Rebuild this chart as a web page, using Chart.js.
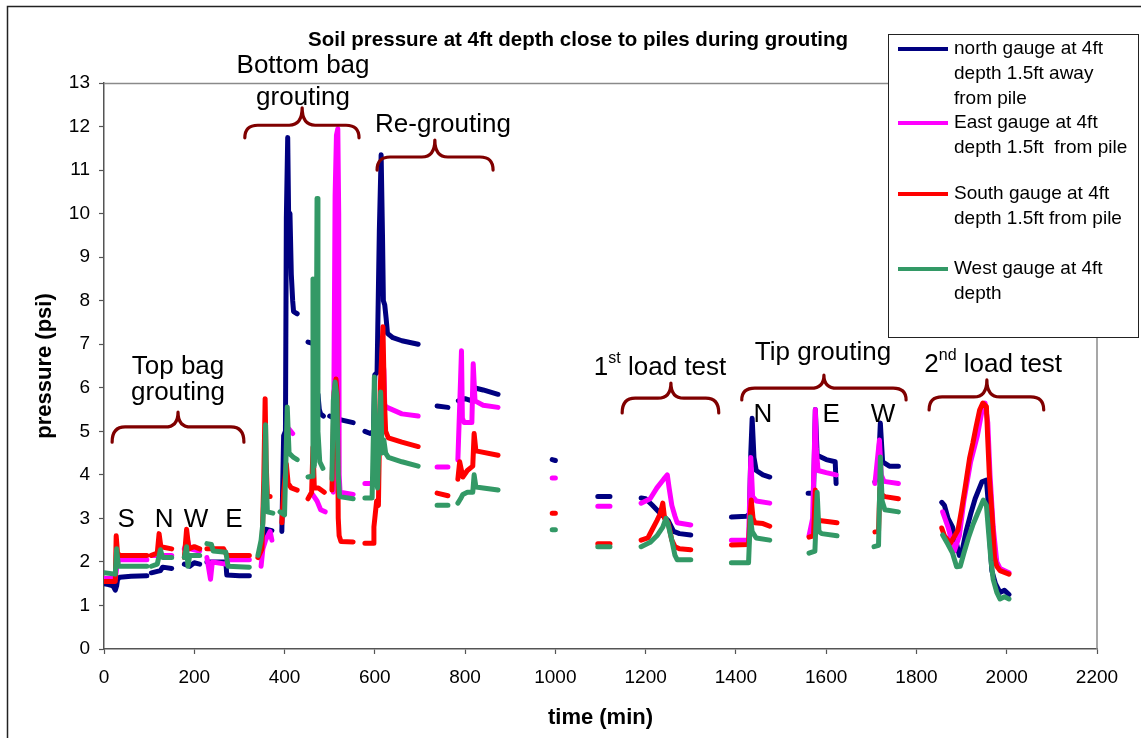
<!DOCTYPE html>
<html><head><meta charset="utf-8">
<script src="https://cdn.jsdelivr.net/npm/chart.js@4.4.1/dist/chart.umd.min.js"></script>
<style>html,body{margin:0;padding:0;background:#fff;}canvas{display:block;}</style>
</head><body>
<canvas id="c" width="1141" height="738"></canvas>
<script>
const FONT = "'Liberation Sans', Arial, sans-serif";
const chartTitle = "Soil pressure at 4ft depth close to piles during grouting";
const xTickValues = [0,200,400,600,800,1000,1200,1400,1600,1800,2000,2200];
const yTickValues = [0,1,2,3,4,5,6,7,8,9,10,11,12,13];

// [time (min), pressure (psi)], null = gap in record
const north = [[0,1.5],[10,1.48],[20,1.45],[25,1.35],[28,1.45],[30,1.6],[35,1.65],[60,1.67],[95,1.68],null,
 [105,1.75],[125,1.8],[130,1.88],[150,1.85],null,[178,1.95],[190,1.9],[200,1.98],[212,1.95],null,
 [228,2.0],[250,2.0],[270,2.0],[272,1.7],[300,1.68],[322,1.68],null,
 [348,2.25],[355,2.5],[358,2.75],[372,2.72],null,[394,2.7],[398,4.9],[402,5.0],[404,9.9],[407,11.75],[409,10.0],[412,10.0],[415,8.6],[418,8.0],[420,7.75],[428,7.7],null,
 [452,7.05],[462,7.02],null,[474,5.85],[477,5.5],[480,5.4],[486,5.35],null,[500,5.35],[510,5.3],[530,5.25],[552,5.2],null,
 [578,5.0],[590,4.95],[597,5.0],[600,6.3],[605,6.35],[610,9.6],[614,11.35],[617,9.5],[619,8.0],[622,7.9],[625,7.6],[628,7.25],[640,7.15],[660,7.08],[696,7.0],null,
 [738,5.58],[762,5.55],null,[785,5.7],[800,5.75],[815,5.7],[820,6.0],[840,5.95],[873,5.85],null,
 [993,4.35],[1000,4.33],null,[1094,3.5],[1121,3.5],null,
 [1190,3.47],[1200,3.45],[1215,3.3],[1232,3.12],[1250,2.95],[1262,2.7],[1275,2.65],[1300,2.62],null,
 [1390,3.03],[1424,3.05],[1430,3.1],[1433,4.5],[1436,5.3],[1440,4.4],[1445,4.1],[1460,4.0],[1475,3.95],null,
 [1560,3.58],[1572,3.58],[1576,5.5],[1580,4.45],[1600,4.35],[1620,4.3],[1622,3.8],null,
 [1708,3.84],[1715,4.0],[1720,5.19],[1725,4.3],[1740,4.2],[1760,4.2],null,
 [1856,3.37],[1862,3.3],[1870,3.0],[1880,2.8],[1895,2.15],[1900,2.2],[1910,2.7],[1920,3.1],[1930,3.45],[1945,3.84],[1955,3.88],[1958,3.5],[1962,2.6],[1967,1.8],[1975,1.5],[1985,1.3],[1995,1.35],[2005,1.25]];

const east = [[0,1.62],[25,1.62],[30,2.0],[35,2.05],[95,2.05],null,
 [105,2.15],[150,2.15],null,[178,2.3],[185,2.5],[190,2.3],[212,2.25],null,
 [228,2.1],[236,1.6],[240,2.0],[270,1.95],[275,2.05],[322,2.05],null,
 [348,1.9],[352,2.3],[358,2.5],[368,2.7],[372,2.5],null,[410,5.05],[418,4.95],null,
 [462,3.55],[472,3.4],[480,3.2],[490,3.15],null,
 [508,3.6],[512,10.4],[515,11.8],[518,11.95],[520,10.0],[521,4.0],[523,3.6],[552,3.55],null,
 [578,3.8],[597,3.8],null,[605,4.2],[612,5.5],[617,6.7],[620,6.4],[622,5.6],[627,5.55],[660,5.4],[696,5.35],null,
 [738,4.18],[762,4.18],null,[784,4.34],[790,6.2],[792,6.85],[794,5.3],[798,5.2],[815,5.2],[818,6.55],[822,5.7],[840,5.6],[873,5.55],null,
 [993,3.93],[1000,3.93],null,[1094,3.28],[1121,3.28],null,
 [1190,3.35],[1210,3.45],[1225,3.7],[1240,3.9],[1248,4.0],[1252,3.7],[1258,3.3],[1265,3.05],[1270,2.9],[1300,2.85],null,
 [1390,2.5],[1428,2.5],[1433,4.4],[1437,3.5],[1445,3.4],[1475,3.35],null,
 [1562,2.6],[1570,3.0],[1576,5.5],[1578,4.6],[1582,4.1],[1600,4.05],[1622,4.0],null,
 [1708,3.8],[1718,4.8],[1722,4.0],[1728,3.85],[1760,3.8],null,
 [1858,3.15],[1870,2.8],[1884,2.25],[1895,2.6],[1905,3.4],[1920,4.3],[1935,4.9],[1947,5.57],[1952,5.65],[1958,5.2],[1963,4.0],[1970,2.8],[1978,2.0],[1985,1.85],[2005,1.75]];

const south = [[0,1.55],[25,1.55],[27,2.6],[30,2.2],[35,2.15],[95,2.15],null,
 [105,2.15],[118,2.2],[122,2.65],[126,2.35],[150,2.3],null,[178,2.1],[183,2.75],[188,2.3],[200,2.35],[212,2.3],null,
 [228,2.3],[265,2.3],[272,2.15],[322,2.15],null,
 [341,2.1],[350,2.3],[354,3.9],[357,5.75],[359,4.35],[362,3.5],[368,3.5],null,
 [394,2.9],[398,3.6],[404,4.25],[408,3.8],[415,3.7],[428,3.65],null,
 [452,3.45],[460,3.6],[463,4.64],[466,3.7],[475,3.7],[488,3.6],null,
 [505,3.65],[510,5.9],[514,6.2],[517,5.8],[519,3.0],[521,2.6],[525,2.47],[552,2.46],null,
 [578,2.43],[596,2.43],[598,2.8],[604,3.4],[608,3.3],[612,6.0],[618,7.4],[621,5.8],[624,5.0],[630,4.85],[660,4.75],[696,4.65],null,
 [738,3.58],[762,3.52],null,[784,3.9],[788,4.3],[795,3.95],[805,4.1],[817,4.2],[820,4.95],[824,4.55],[873,4.45],null,
 [993,3.12],[1000,3.12],null,[1094,2.42],[1121,2.42],null,
 [1190,2.5],[1205,2.55],[1215,2.75],[1225,2.95],[1232,3.1],[1238,3.35],[1242,3.0],[1250,2.9],[1258,2.5],[1265,2.35],[1275,2.3],[1300,2.28],null,
 [1390,2.39],[1428,2.4],[1431,3.0],[1434,3.42],[1438,3.0],[1442,2.9],[1460,2.88],[1475,2.82],null,
 [1562,2.57],[1572,2.6],[1576,3.65],[1580,3.0],[1585,2.95],[1624,2.9],null,
 [1708,2.69],[1716,2.7],[1719,3.7],[1722,3.55],[1730,3.5],[1760,3.45],null,
 [1856,2.78],[1862,2.6],[1875,2.43],[1885,2.6],[1892,2.73],[1900,3.2],[1908,3.72],[1918,4.4],[1925,4.73],[1932,5.1],[1940,5.49],[1947,5.65],[1955,5.57],[1958,4.8],[1962,3.88],[1968,3.0],[1973,2.1],[1978,1.9],[1985,1.8],[2005,1.72]];

const west = [[0,1.75],[25,1.72],[28,2.3],[32,1.9],[95,1.9],null,
 [105,1.9],[118,1.95],[125,2.28],[130,2.1],[150,2.1],null,[178,2.1],[183,2.35],[186,1.9],[190,2.15],[212,2.15],null,
 [228,2.42],[238,2.4],[242,2.25],[270,2.22],[275,1.9],[322,1.88],null,
 [341,2.15],[348,2.5],[352,2.9],[356,4.0],[358,5.15],[360,3.8],[362,3.15],[374,3.12],null,
 [390,3.15],[400,3.08],[403,4.3],[406,5.56],[410,4.5],[420,4.4],[428,4.35],null,
 [452,3.95],[461,3.97],[463,8.5],[466,4.2],[470,5.5],[472,10.35],[474,5.0],[478,4.3],[485,4.15],null,
 [505,3.9],[508,5.7],[512,6.13],[516,5.8],[519,4.0],[522,3.5],[552,3.45],null,
 [578,3.47],[594,3.47],[597,5.0],[599,6.25],[602,4.0],[606,3.7],[610,5.0],[613,5.9],[616,4.5],[620,4.8],[624,4.5],[630,4.4],[660,4.3],[696,4.2],null,
 [738,3.3],[762,3.3],null,[784,3.35],[790,3.45],[795,3.55],[805,3.6],[817,3.6],[820,4.0],[824,3.72],[840,3.7],[873,3.65],null,
 [993,2.74],[1000,2.74],null,[1094,2.35],[1121,2.35],null,
 [1190,2.35],[1210,2.45],[1225,2.6],[1238,2.8],[1245,3.0],[1250,2.85],[1258,2.5],[1265,2.15],[1270,2.05],[1300,2.05],null,
 [1390,1.98],[1428,1.98],[1432,3.03],[1436,2.7],[1445,2.55],[1475,2.5],null,
 [1562,2.2],[1575,2.25],[1580,3.6],[1584,2.7],[1590,2.65],[1624,2.6],null,
 [1706,2.35],[1716,2.38],[1720,4.41],[1724,3.4],[1730,3.2],[1760,3.15],null,
 [1858,2.62],[1870,2.4],[1880,2.2],[1889,1.89],[1897,1.9],[1905,2.2],[1915,2.55],[1925,2.85],[1935,3.1],[1948,3.42],[1955,3.3],[1960,2.66],[1965,2.04],[1970,1.6],[1978,1.3],[1985,1.15],[1995,1.2],[2005,1.15]];

const seriesNames = [
  ["north gauge at 4ft","depth 1.5ft away","from pile"],
  ["East gauge at 4ft","depth 1.5ft  from pile"],
  ["South gauge at 4ft","depth 1.5ft from pile"],
  ["West gauge at 4ft","depth"]
];
const seriesColors = ["#000080","#FF00FF","#FF0000","#339966"];

// braces: [tStart, tEnd, tTip, pLine, pEnd, pTip]
const braces = [
  [18,310,164,5.10,4.75,5.44],
  [312,565,439,12.03,11.74,12.43],
  [605,862,733,11.30,11.00,11.69],
  [1148,1362,1256,5.76,5.42,6.11],
  [1413,1777,1595,5.99,5.72,6.29],
  [1828,2082,1956,5.79,5.49,6.18]
];
// notes: [text, t(center), p(baseline)]
const notes = [
  ["Top bag",164,6.32],["grouting",164,5.72],
  ["Bottom bag",441,13.23],["grouting",441,12.49],
  ["Re-grouting",751,11.87],
  ["Tip grouting",1593,6.64],
  ["S",49,2.80],["N",133,2.80],["W",204,2.80],["E",288,2.80],
  ["N",1460,5.21],["E",1611,5.21],["W",1726,5.21]
];
const supNotes = [["1","st"," load test",1232,6.29],["2","nd"," load test",1970,6.36]];

function toPoints(arr){
  const out=[]; let lx=0;
  for(const p of arr){ if(p===null){out.push({x:lx,y:null});} else {out.push({x:p[0],y:p[1]}); lx=p[0];} }
  return out;
}

const framePlugin = {
  id:'frame',
  beforeDraw(chart){
    const c=chart.ctx; c.save();
    c.fillStyle='#fff'; c.fillRect(0,0,chart.width,chart.height);
    c.strokeStyle='#222'; c.lineWidth=1.5; c.strokeRect(7.5,6.5,chart.width+40,chart.height+40);
    c.restore();
  },
  beforeDatasetsDraw(chart){
    const c=chart.ctx, a=chart.chartArea; c.save();
    c.strokeStyle='#8a8a8a'; c.lineWidth=1.5;
    c.beginPath(); c.moveTo(a.left,a.top+0.5); c.lineTo(a.right,a.top+0.5); c.lineTo(a.right,a.bottom); c.stroke();
    c.restore();
  },
  afterDraw(chart){
    const c=chart.ctx; c.save();
    c.fillStyle='#000'; c.font='bold 20.5px '+FONT; c.textAlign='center'; c.textBaseline='middle';
    c.fillText(chartTitle,578,40);
    c.restore();
  }
};

const notePlugin = {
  id:'notes',
  afterDatasetsDraw(chart){
    const c=chart.ctx, xs=chart.scales.x, ys=chart.scales.y;
    c.save();
    c.strokeStyle='#800000'; c.lineWidth=3.2; c.lineCap='round'; c.lineJoin='round';
    for(const b of braces){
      const x1=xs.getPixelForValue(b[0]), x2=xs.getPixelForValue(b[1]), xt=xs.getPixelForValue(b[2]);
      const yl=ys.getPixelForValue(b[3]), ye=ys.getPixelForValue(b[4]), yt=ys.getPixelForValue(b[5]);
      const r=13;
      c.beginPath();
      c.moveTo(x1,ye); c.quadraticCurveTo(x1,yl,x1+r,yl);
      c.lineTo(xt-r,yl); c.quadraticCurveTo(xt,yl,xt,yt);
      c.quadraticCurveTo(xt,yl,xt+r,yl);
      c.lineTo(x2-r,yl); c.quadraticCurveTo(x2,yl,x2,ye);
      c.stroke();
    }
    c.fillStyle='#000'; c.textBaseline='alphabetic'; c.textAlign='center';
    c.font='26px '+FONT;
    for(const n of notes){ c.fillText(n[0], xs.getPixelForValue(n[1]), ys.getPixelForValue(n[2])); }
    c.textAlign='left';
    for(const s of supNotes){
      c.font='26px '+FONT; const w1=c.measureText(s[0]).width, w3=c.measureText(s[2]).width;
      c.font='16px '+FONT; const w2=c.measureText(s[1]).width;
      const tot=w1+w2+w3; let x=xs.getPixelForValue(s[3])-tot/2; const y=ys.getPixelForValue(s[4]);
      c.font='26px '+FONT; c.fillText(s[0],x,y); x+=w1;
      c.font='16px '+FONT; c.fillText(s[1],x,y-12); x+=w2;
      c.font='26px '+FONT; c.fillText(s[2],x,y);
    }
    c.restore();
  }
};

const legendPlugin = {
  id:'boxLegend',
  afterDraw(chart){
    const c=chart.ctx; c.save();
    const L=888, T=34, W=250, H=303;
    c.fillStyle='#fff'; c.fillRect(L,T,W,H);
    c.strokeStyle='#222'; c.lineWidth=1; c.strokeRect(L+0.5,T+0.5,W,H);
    const firstY=[49,123,194,269];
    c.font='19px '+FONT; c.textBaseline='middle'; c.textAlign='left';
    seriesNames.forEach((lines,i)=>{
      const y=firstY[i];
      c.strokeStyle=seriesColors[i]; c.lineWidth=4; c.lineCap='butt';
      c.beginPath(); c.moveTo(898,y); c.lineTo(948,y); c.stroke();
      c.fillStyle='#000';
      lines.forEach((t,k)=>c.fillText(t,954,y+k*25));
    });
    c.restore();
  }
};

const allSeries=[north,east,south,west];
const datasets = allSeries.map((s,i)=>({
  label: seriesNames[i].join(' '),
  data: toPoints(s),
  borderColor: seriesColors[i],
  backgroundColor: seriesColors[i],
  borderWidth: 5,
  pointRadius: 0,
  tension: 0,
  spanGaps: false,
  borderCapStyle:'round',
  borderJoinStyle:'round',
  order: 4-i
}));

new Chart(document.getElementById('c'), {
  type:'line',
  data:{datasets},
  options:{
    responsive:false, animation:false, devicePixelRatio:1,
    layout:{padding:{top:83,left:14,right:44,bottom:0}},
    plugins:{legend:{display:false}, title:{display:false}, tooltip:{enabled:false}},
    scales:{
      x:{type:'linear',min:0,max:2200,
        afterBuildTicks(s){s.ticks=xTickValues.map(v=>({value:v}));},
        afterFit(s){s.height=89;},
        ticks:{font:{family:FONT,size:19},color:'#000',padding:12.6,maxRotation:0,autoSkip:false,callback:v=>String(v)},
        grid:{drawOnChartArea:false,drawTicks:true,tickLength:5,color:'#555',tickWidth:1.2},
        border:{display:true,color:'#555',width:1.5},
        title:{display:true,text:'time (min)',font:{family:FONT,size:22,weight:'bold'},color:'#000',padding:{top:0,bottom:6.8}}
      },
      y:{type:'linear',min:0,max:13,
        afterBuildTicks(s){s.ticks=yTickValues.map(v=>({value:v}));},
        afterFit(s){s.width=90;},
        ticks:{font:{family:FONT,size:19},color:'#000',padding:9,autoSkip:false,callback:v=>String(v)},
        grid:{drawOnChartArea:false,drawTicks:true,tickLength:5,color:'#555',tickWidth:1.2},
        border:{display:true,color:'#555',width:1.5},
        title:{display:true,text:'pressure (psi)',font:{family:FONT,size:22,weight:'bold'},color:'#000',padding:{top:17.8,bottom:0}}
      }
    }
  },
  plugins:[framePlugin,notePlugin,legendPlugin]
});
</script>
</body></html>
